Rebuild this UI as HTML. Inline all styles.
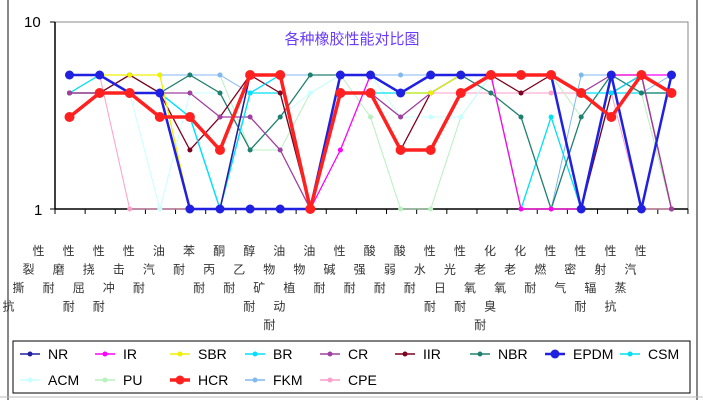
<!DOCTYPE html>
<html><head><meta charset="utf-8"><style>
body{margin:0;background:#fff;width:703px;height:400px;overflow:hidden;font-family:"Liberation Sans","Noto Sans CJK SC",sans-serif}
</style></head><body>
<svg id="s" width="703" height="400" xmlns="http://www.w3.org/2000/svg" font-family="Liberation Sans, Noto Sans CJK SC, sans-serif">
<rect x="0" y="0" width="703" height="400" fill="#fff"/>
<line x1="8" y1="0" x2="8" y2="400" stroke="#888" stroke-width="2"/>
<line x1="697" y1="0" x2="697" y2="400" stroke="#888" stroke-width="2"/>
<line x1="0" y1="397" x2="703" y2="397" stroke="#bbb"/>
<rect x="55" y="22" width="633" height="187" fill="none" stroke="#888" stroke-width="1"/>
<line x1="55" y1="22" x2="55" y2="209" stroke="#000" stroke-width="1.5"/>
<line x1="55" y1="209" x2="688" y2="209" stroke="#000" stroke-width="1.5"/>
<text x="24" y="27" font-size="15">10</text>
<text x="34" y="215" font-size="15">1</text>
<line x1="50" y1="22" x2="55" y2="22" stroke="#000"/>
<line x1="50" y1="209" x2="55" y2="209" stroke="#000"/>
<text x="352" y="44" font-size="15" fill="#6a3cff" text-anchor="middle" font-family="Noto Sans CJK SC, sans-serif">各种橡胶性能对比图</text>
<g id="ticks"></g>
<g id="lines"></g>
<g id="labels" font-size="12" font-family="Noto Sans CJK SC, sans-serif"></g>
<rect x="13" y="341" width="677" height="52" fill="#fff" stroke="#000"/>
<g id="legend" font-size="14"></g>
</svg>
<script>
var NS="http://www.w3.org/2000/svg";
function el(n,a,p){var e=document.createElementNS(NS,n);for(var k in a)e.setAttribute(k,a[k]);p.appendChild(e);return e;}
var X=function(i){return 69.5+i*30.1;};
var L={5:75,4:93,3:117,2:150,1:209};
var tk=document.getElementById('ticks');
for(var k=0;k<=21;k++){var x=55+k*30.14;el('line',{x1:x,y1:209,x2:x,y2:214,stroke:'#000'},tk);}
var S=[
["CPE","#ff9ec8",1,[4,5,1,1,1,1,1,1,1,4,4,4,4,4,4,4,4,4,4,1,1]],
["PU","#b8f0c0",1,[4,5,5,5,5,5,2,2,4,5,3,1,1,3,5,4,5,3,5,4,1]],
["ACM","#c8ffff",1,[4,4,4,1,4,4,2,3,4,5,5,3,3,3,5,5,5,4,5,5,1]],
["FKM","#80b8f0",1,[4,5,5,5,5,5,4,5,5,5,5,5,5,5,5,1,1,5,5,4,5]],
["CSM","#00e0f0",1.3,[4,5,4,4,3,1,4,4,1,4,4,4,4,5,5,1,3,1,4,4,4]],
["NBR","#208070",1.3,[4,4,5,4,5,4,2,3,5,5,5,4,5,5,4,3,1,3,5,4,4]],
["IIR","#800020",1.3,[4,4,5,4,2,3,5,4,1,4,4,2,4,5,5,4,5,1,4,5,1]],
["CR","#a040a0",1.3,[4,4,4,4,4,3,3,2,1,4,4,3,4,5,5,5,5,4,5,5,1]],
["BR","#00e0ff",1.3,[5,5,4,4,3,1,4,5,1,5,5,4,4,5,5,5,5,4,4,5,4]],
["SBR","#f0f000",1.3,[5,5,5,5,1,1,5,5,1,5,5,4,4,5,5,1,1,1,5,5,4]],
["IR","#ff00ff",1.3,[5,5,4,4,1,1,5,5,1,2,5,4,5,5,5,1,1,1,5,5,5]],
["NR","#2020a0",1.5,[5,5,4,4,1,1,5,5,1,5,5,4,5,5,5,5,5,1,5,1,5]],
["EPDM","#2020e0",2.5,[5,5,4,4,1,1,1,1,1,5,5,4,5,5,5,5,5,1,5,1,5]],
["HCR","#ff2020",3.5,[3,4,4,3,3,2,5,5,1,4,4,2,2,4,5,5,5,4,3,5,4]]
];
var g=document.getElementById('lines');
S.forEach(function(s){var pts=s[3].map(function(v,i){return X(i)+","+L[v];}).join(" ");
el('polyline',{points:pts,fill:'none',stroke:s[1],'stroke-width':s[2]},g);
s[3].forEach(function(v,i){var r=s[0]=="HCR"?5:(s[0]=="EPDM"?4.5:2.5);el('circle',{cx:X(i),cy:L[v],r:r,fill:s[1]},g);});});
var labs=["抗撕裂性","耐磨性","耐屈挠性","耐冲击性","耐汽油","耐苯","耐丙酮","耐乙醇","耐矿物油","耐动植物油","耐碱性","耐强酸","耐弱酸","耐水性","耐日光性","耐氧老化","耐臭氧老化","耐燃性","气密性","耐辐射性","抗蒸汽性"];
var lg=document.getElementById('labels');
labs.forEach(function(t,i){var n=t.length;var x0=X(i)-37,y0=255;
for(var j=0;j<n;j++){var c=t[n-1-j];var e=el('text',{x:x0-j*10,y:y0+j*18.5,fill:'#333'},lg);e.textContent=c;}});
var leg=[["NR","#2020a0",20,354],["IR","#ff00ff",95,354],["SBR","#f0f000",170,354],["BR","#00e0ff",245,354],["CR","#a040a0",320,354],["IIR","#800020",395,354],["NBR","#208070",470,354],["EPDM","#2020e0",545,354],["CSM","#00e0f0",620,354],
["ACM","#c8ffff",20,380],["PU","#b8f0c0",95,380],["HCR","#ff2020",170,380],["FKM","#80b8f0",245,380],["CPE","#ff9ec8",320,380]];
var lgg=document.getElementById('legend');
leg.forEach(function(l){var w=l[0]=="HCR"?3.5:(l[0]=="EPDM"?2.5:1.5);
el('line',{x1:l[2],y1:l[3],x2:l[2]+20,y2:l[3],stroke:l[1],'stroke-width':w},lgg);
el('circle',{cx:l[2]+10,cy:l[3],r:(l[0]=="HCR"||l[0]=="EPDM")?4.5:2.5,fill:l[1]},lgg);
var e=el('text',{x:l[2]+28,y:l[3]+5},lgg);e.textContent=l[0];});
</script>
</body></html>
